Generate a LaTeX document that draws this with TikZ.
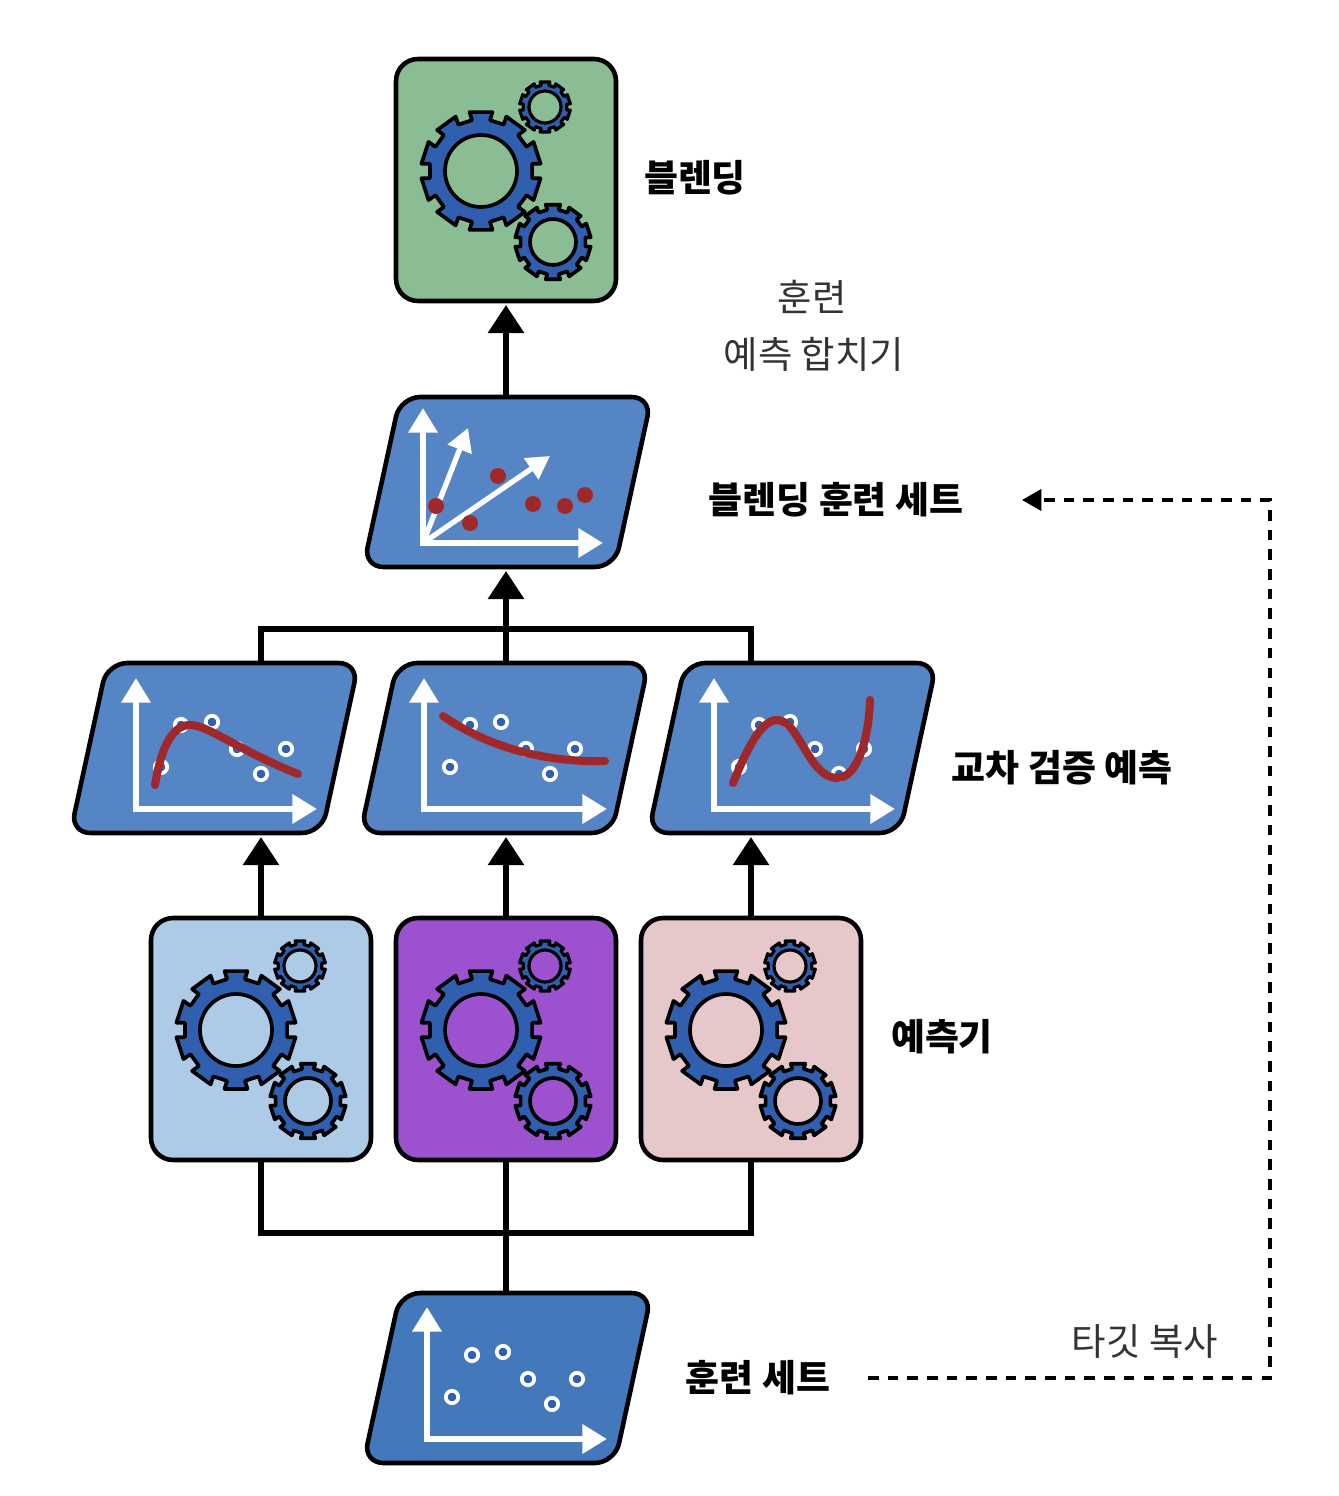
\documentclass[tikz,border=0pt]{standalone}
\usepackage{fontspec}
\usepackage{tikz}
\usetikzlibrary{arrows.meta,shapes.geometric}
\setmainfont{Noto Sans CJK KR}

\definecolor{gearblue}{HTML}{2F5FAE}
\definecolor{setblue}{HTML}{5585C4}
\definecolor{basesetblue}{HTML}{4378BA}
\definecolor{curvered}{HTML}{A0282A}
\definecolor{boxgreen}{HTML}{8ABD94}
\definecolor{boxsky}{HTML}{ADCAE6}
\definecolor{boxpurple}{HTML}{9C52CF}
\definecolor{boxpink}{HTML}{E6C8CB}

% one gear: x, y, outer radius, hole radius, line width
\newcommand{\onegear}[5]{
\draw[shift={(#1,#2)},draw=black,fill=gearblue,line width=#5,even odd rule,line join=round]
(8:#3*0.86)
\foreach \ang in {18,54,...,342} { -- (\ang-10:#3*0.86) -- (\ang-11:#3) -- (\ang+11:#3) -- (\ang+10:#3*0.86) }
-- cycle (0,0) circle (#4);
}
% the three gears of a box
\newcommand{\gearset}[1]{
\begin{scope}[shift={(#1.center)}]
\onegear{-25}{-9}{60}{36}{2.1pt}
\onegear{39}{-73}{25.5}{16}{1.8pt}
\onegear{47}{62}{38}{23}{2.1pt}
\end{scope}
}
% axes from an origin: x, y, top of the y axis, end of the x axis
\newcommand{\axesat}[4]{
\draw[axisline] (#1,#3) -- (#1,#2) -- (#4,#2);
}
\newcommand{\samples}[2]{
\begin{scope}[shift={(#1,#2)}]
\foreach \px/\py in {25/-42,45/-84,76/-87,101/-60,125/-35,150/-60}
{ \draw[sampledot] (\px,\py) circle (6.2); }
\end{scope}
}

\begin{document}
\begin{tikzpicture}
[
  x=0.02cm,y=-0.02cm,
  modelbox/.style={draw,line width=2.6pt,rounded corners=0.44cm,minimum width=4.4cm,minimum height=4.84cm,inner sep=0},
  setbox/.style={draw,fill=setblue,line width=2.6pt,rounded corners=0.4cm,trapezium,trapezium left angle=71,trapezium right angle=109,
    trapezium stretches=true,text width=2cm,text height=1cm,text depth=0pt,minimum width=5.8cm,minimum height=3.4cm,inner sep=0},
  link/.style={line width=3.4pt},
  linkarrow/.style={link,-{Triangle[width=20pt,length=16pt]}},
  copyline/.style={line width=2pt,dash pattern=on 6pt off 5.2pt,-{Triangle[width=12pt,length=11pt]}},
  axisline/.style={white,line width=3.6pt,line join=miter,{Triangle[width=16pt,length=14pt]}-{Triangle[width=16pt,length=14pt]}},
  sidearrow/.style={white,line width=3pt,-{Triangle[width=14pt,length=13pt]}},
  sampledot/.style={draw=white,fill=gearblue,line width=2.1pt},
  fitcurve/.style={curvered,line width=4.6pt,line cap=round},
  reddot/.style={fill=curvered},
  strong/.style={font=\fontsize{21}{26}\selectfont\bfseries},
  plain/.style={font=\fontsize{21.3}{26}\selectfont,text=black!80}
]

\useasboundingbox (0,0) rectangle (1338,1496);

% models
\node[modelbox,fill=boxgreen] (blender) at (506,180) {};
\node[modelbox,fill=boxsky] (model1) at (261,1039) {};
\node[modelbox,fill=boxpurple] (model2) at (506,1039) {};
\node[modelbox,fill=boxpink] (model3) at (751,1039) {};

% data sets
\node[setbox] (blendset) at (507.5,482) {};
\node[setbox] (pred1) at (214.5,748) {};
\node[setbox] (pred2) at (504.5,748) {};
\node[setbox] (pred3) at (792.5,748) {};
\node[setbox,fill=basesetblue] (trainset) at (507.5,1378) {};

\foreach \m in {blender,model1,model2,model3} { \gearset{\m} }

% training set
\axesat{427}{1439}{1307}{607}
\samples{427}{1439}

% predictions
\samples{136}{809}
\samples{425}{809}
\samples{714}{809}
\axesat{136}{809}{678}{317}
\axesat{424}{809}{678}{607}
\axesat{714}{809}{678}{895}
\draw[fitcurve,shift={(136,809)}] (19,-24) .. controls (24,-55) and (34,-84) .. (54,-84) .. controls (72,-84) and (100,-60) .. (162,-35);
\draw[fitcurve,shift={(424,809)}] (19,-93) .. controls (55,-68) and (110,-46) .. (181,-48);
\draw[fitcurve,shift={(714,809)}] (19,-26) .. controls (33,-60) and (47,-89) .. (63,-89) .. controls (85,-89) and (95,-31) .. (123,-31) .. controls (145,-31) and (155,-75) .. (156,-109);

% blending set
\draw[sidearrow] (423,543) -- (468,428);
\draw[sidearrow] (423,543) -- (550,456);
\axesat{423}{543}{408}{603}
\foreach \px/\py in {436/506,470/523,498/476,533/504,565/506,585/495}
{ \fill[reddot] (\px,\py) circle (8); }

% labels
\node[strong] (blendername) at (695,178) {블렌딩};
\node[plain] (trainname) at (812,297) {훈련};
\node[plain] (mergename) at (814,354) {예측 합치기};
\node[strong] (blendsetname) at (836,500) {블렌딩 훈련 세트};
\node[strong] (predname) at (1062,768) {교차 검증 예측};
\node[strong] (modelname) at (942,1037) {예측기};
\node[strong] (trainsetname) at (758,1378) {훈련 세트};
\node[plain] (copyname) at (1145,1341) {타깃 복사};

% connectors
\coordinate (bustop) at (506,629);
\coordinate (busbottom) at (506,1233);
\coordinate (copystart) at (868,1378);
\coordinate (copyend) at (1022,500);
\coordinate (copyside) at (1270,940);

\draw[linkarrow,shorten >=1pt] (blendset.north -| blender.south) -- (blender.south);
\draw[linkarrow,shorten >=1pt] (model2.north |- pred2.north) -- (model2.north |- blendset.south);
\draw[link] (model1.north |- pred1.north) |- (bustop) -| (model3.north |- pred3.north);
\draw[linkarrow,shorten >=1pt] (model1.north) -- (model1.north |- pred1.south);
\draw[linkarrow,shorten >=1pt] (model2.north) -- (model2.north |- pred2.south);
\draw[linkarrow,shorten >=1pt] (model3.north) -- (model3.north |- pred3.south);
\draw[link] (model1.south) |- (busbottom) -| (model3.south);
\draw[link] (model2.south) -- (model2.south |- trainset.north);
\draw[copyline] (copystart) -| (copyside) |- (copyend);

\end{tikzpicture}
\end{document}
